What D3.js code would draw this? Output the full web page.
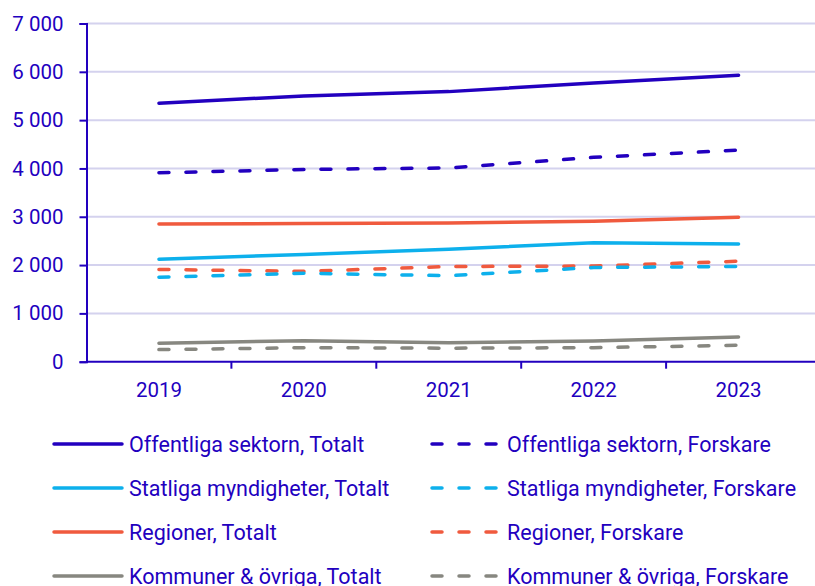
<!DOCTYPE html>
<html>
<head>
<meta charset="utf-8">
<script src="https://cdn.jsdelivr.net/npm/d3@7"></script>
<style>
  body { margin: 0; background: #fff; }
  svg text { font-family: Roboto, "Noto Sans", sans-serif; }
</style>
</head>
<body>
<svg id="chart" width="815" height="586"></svg>
<script>
// data
const years = ["2019", "2020", "2021", "2022", "2023"]
const offentligaTotalt = [5350, 5500, 5590, 5770, 5930]
const offentligaForskare = [3910, 3980, 4010, 4230, 4380]
const statligaTotalt = [2120, 2220, 2330, 2460, 2435]
const statligaForskare = [1750, 1830, 1780, 1950, 1970]
const regionerTotalt = [2850, 2860, 2870, 2905, 2990]
const regionerForskare = [1910, 1870, 1970, 1980, 2080]
const kommunerTotalt = [380, 435, 390, 430, 510]
const kommunerForskare = [250, 290, 280, 290, 340]
const yTicks = [0, 1000, 2000, 3000, 4000, 5000, 6000, 7000]

const blue = '#2200BF'
const series = [
    { name: 'Offentliga sektorn, Totalt', values: offentligaTotalt, color: blue, dash: false },
    { name: 'Offentliga sektorn, Forskare', values: offentligaForskare, color: blue, dash: true },
    { name: 'Statliga myndigheter, Totalt', values: statligaTotalt, color: '#0DB0EC', dash: false },
    { name: 'Statliga myndigheter, Forskare', values: statligaForskare, color: '#0DB0EC', dash: true },
    { name: 'Regioner, Totalt', values: regionerTotalt, color: '#F05A3E', dash: false },
    { name: 'Regioner, Forskare', values: regionerForskare, color: '#F05A3E', dash: true },
    { name: 'Kommuner & övriga, Totalt', values: kommunerTotalt, color: '#878780', dash: false },
    { name: 'Kommuner & övriga, Forskare', values: kommunerForskare, color: '#878780', dash: true }
]

const svg = d3.select('#chart')
const plotLeft = 86.5, plotRight = 811, plotTop = 23.5, plotBottom = 361.7

const x = d3.scaleBand().domain(years).range([plotLeft, plotRight])
const y = d3.scaleLinear().domain([0, 7000]).range([plotBottom, plotTop])
const fmt = v => d3.format(',')(v).replace(',', ' ')

// gridlines
svg.append('g').selectAll('line')
    .data(yTicks.filter(d => d > 0))
    .join('line')
    .attr('x1', plotLeft).attr('x2', 815)
    .attr('y1', d => y(d)).attr('y2', d => y(d))
    .attr('stroke', '#D4D2EE')
    .attr('stroke-width', 2)

// y axis
const yAxis = svg.append('g')
    .attr('transform', `translate(${plotLeft},0)`)
    .call(d3.axisLeft(y).tickValues(yTicks).tickFormat(fmt).tickSize(7).tickPadding(16))
yAxis.select('.domain').attr('stroke', blue).attr('stroke-width', 2)
yAxis.selectAll('.tick line').attr('stroke', blue).attr('stroke-width', 2)
yAxis.selectAll('.tick text').attr('fill', blue).attr('font-size', 20.5)

// x axis
const xAxis = svg.append('g')
    .attr('transform', `translate(0,${plotBottom})`)
    .call(d3.axisBottom(x).tickSize(0).tickPadding(21))
xAxis.select('.domain').attr('d', `M${plotLeft},0H815`).attr('stroke', blue).attr('stroke-width', 2)
xAxis.selectAll('.tick text').attr('fill', blue).attr('font-size', 20.5)
xAxis.selectAll('.sep')
    .data(years.slice(1))
    .join('line')
    .attr('x1', d => x(d)).attr('x2', d => x(d))
    .attr('y1', 0).attr('y2', 7)
    .attr('stroke', blue).attr('stroke-width', 2)

// lines
const line = d3.line()
    .x((d, i) => x(years[i]) + x.bandwidth() / 2)
    .y(d => y(d))

svg.append('g').selectAll('path')
    .data(series.slice().reverse())
    .join('path')
    .attr('d', d => line(d.values))
    .attr('fill', 'none')
    .attr('stroke', d => d.color)
    .attr('stroke-width', 3.5)
    .attr('stroke-linecap', 'round')
    .attr('stroke-linejoin', 'round')
    .attr('stroke-dasharray', d => d.dash ? '10,17' : null)

// legend, two columns
const legend = svg.append('g')
series.forEach((s, i) => {
    const col = i % 2, row = Math.floor(i / 2)
    const lx = col === 0 ? 54 : 432
    const ly = 444 + row * 44
    const g = legend.append('g').attr('transform', `translate(${lx},${ly})`)
    g.append('line')
        .attr('x1', 0).attr('x2', 68)
        .attr('y1', 0).attr('y2', 0)
        .attr('stroke', s.color)
        .attr('stroke-width', 3.5)
        .attr('stroke-linecap', 'round')
        .attr('stroke-dasharray', s.dash ? '10,17' : null)
    g.append('text')
        .attr('x', 75).attr('y', 0)
        .attr('dy', '0.35em')
        .attr('fill', blue)
        .attr('font-size', 21.5)
        .text(s.name)
})
</script>
</body>
</html>
